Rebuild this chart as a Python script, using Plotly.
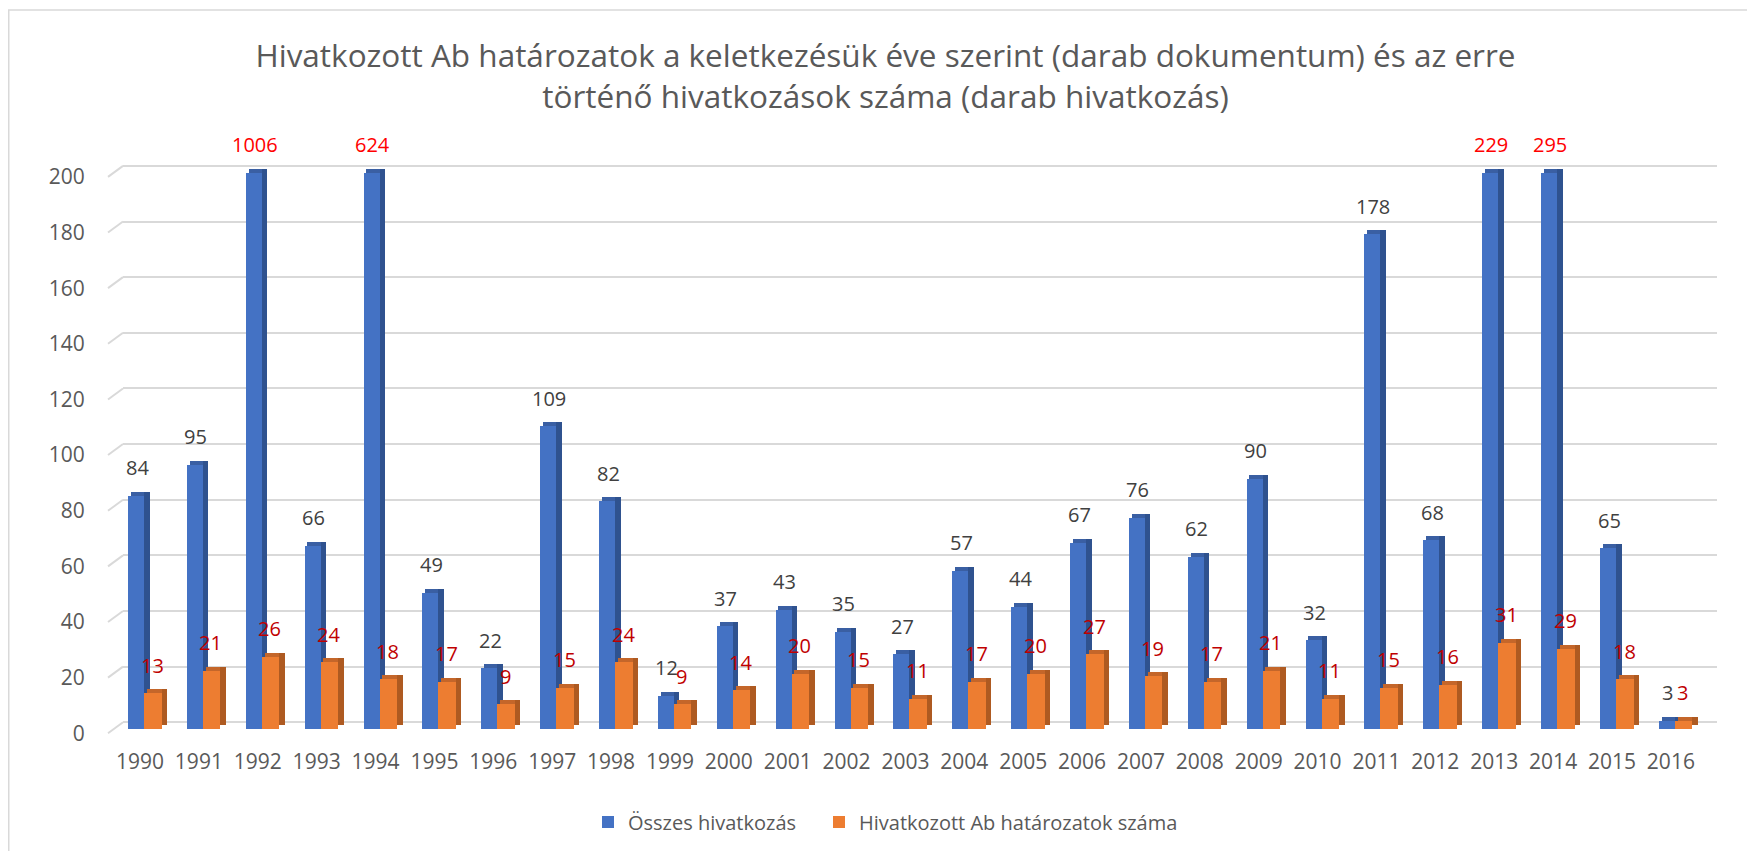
import plotly.graph_objects as go

# ---------------- data ----------------
years = ["1990", "1991", "1992", "1993", "1994", "1995", "1996", "1997", "1998", "1999",
         "2000", "2001", "2002", "2003", "2004", "2005", "2006", "2007", "2008", "2009",
         "2010", "2011", "2012", "2013", "2014", "2015", "2016"]
osszes = [84, 95, 1006, 66, 624, 49, 22, 109, 82, 12,
          37, 43, 35, 27, 57, 44, 67, 76, 62, 90,
          32, 178, 68, 229, 295, 65, 3]
hivatkozott = [13, 21, 26, 24, 18, 17, 9, 15, 24, 9,
               14, 20, 15, 11, 17, 20, 27, 19, 17, 21,
               11, 15, 16, 31, 29, 18, 3]
y_ticks = [0, 20, 40, 60, 80, 100, 120, 140, 160, 180, 200]
axis_cap = 200

title_text = ("Hivatkozott Ab határozatok a keletkezésük éve szerint (darab dokumentum) és az erre"
              "<br>történő hivatkozások száma (darab hivatkozás)")
name_blue = "Összes hivatkozás"
name_orange = "Hivatkozott Ab határozatok száma"

# ---------------- styling / geometry ----------------
FONT = "Open Sans"
W, H = 1755, 851
OFF = 8                       # page body margin
# target plot area in page pixels
P_LEFT, P_RIGHT, P_TOP, P_BOTTOM = 123, 1717, 159, 732
ML, MR = P_LEFT - OFF, W - (P_RIGHT - OFF)
MT, MB = P_TOP - OFF, H - (P_BOTTOM - OFF)
PW, PH = W - ML - MR, H - MT - MB
CAT_PX = 58.88
XR = [-17 / CAT_PX, -17 / CAT_PX + PW / CAT_PX]
YR = [-1, 205]
px_x = PW / (XR[1] - XR[0])
px_y = PH / (YR[1] - YR[0])
grid_shift = 7 / px_y          # back-wall gridlines sit 7px higher than front
depth = 4 / px_y               # 3D depth (vertical)

BLUE, BLUE_SIDE, BLUE_TOP = "#4472c4", "#2f528f", "#3a5fa3"
ORANGE, ORANGE_SIDE, ORANGE_TOP = "#ed7d31", "#ae5a21", "#c4662a"

x = list(range(len(years)))
blue_plot = [min(v, axis_cap) for v in osszes]

blue_w = 16 / px_x
orange_w = 17.5 / px_x
side_w = 5.5 / px_x
blue_off = -12 / px_x
blue_side_off = blue_off + blue_w
orange_off = blue_side_off
orange_side_off = orange_off + orange_w
cap_shift = 2.75 / px_x

fig = go.Figure()

def bars(yv, off, wid, color, name=None, base=None, legend=None):
    fig.add_trace(go.Bar(
        x=x, y=yv, base=base, offset=off, width=wid,
        marker=dict(color=color, line=dict(width=0)),
        name=name, showlegend=legend is not None, legend=legend or "legend",
        hoverinfo="skip"))

# blue series
bars(blue_plot, blue_off, blue_w, BLUE, name_blue, legend="legend")
bars([depth] * len(x), blue_off + cap_shift, blue_w, BLUE_TOP, base=blue_plot)
bars(blue_plot, blue_side_off, side_w, BLUE_SIDE, base=depth)
# orange series
bars(hivatkozott, orange_off, orange_w, ORANGE, name_orange, legend="legend2")
bars([depth] * len(x), orange_off + cap_shift, orange_w, ORANGE_TOP, base=hivatkozott)
bars(hivatkozott, orange_side_off, side_w, ORANGE_SIDE, base=depth)

# invisible trace to carry the back-wall gridline axis
fig.add_trace(go.Scatter(x=[None], y=[None], yaxis="y2", showlegend=False, hoverinfo="skip"))

# data labels
ann = []
for i, v in enumerate(osszes):
    col = "#ff0000" if v > axis_cap else "#404040"
    ann.append(dict(x=i - 3 / px_x, y=min(v, axis_cap), xref="x", yref="y",
                    text=str(v), showarrow=False, yanchor="middle", yshift=28,
                    font=dict(family=FONT, size=20, color=col)))
for i, v in enumerate(hivatkozott):
    ann.append(dict(x=i + 12 / px_x, y=v, xref="x", yref="y",
                    text=str(v), showarrow=False, yanchor="middle", yshift=28,
                    font=dict(family=FONT, size=20, color="#c00000")))

# shapes: chart border + 3D floor gridline stubs on the left
shapes = [dict(type="rect", xref="paper", yref="paper",
               x0=(0.75 - ML) / PW, x1=1.2, y0=-0.5, y1=(PH + MT - 2) / PH,
               line=dict(color="#d9d9d9", width=1.5), fillcolor="rgba(0,0,0,0)", layer="below")]
for v in y_ticks:
    y_back = (v + grid_shift - YR[0]) / (YR[1] - YR[0])
    y_front = y_back - (11 / PH)
    shapes.append(dict(type="line", xref="paper", yref="paper",
                       x0=-15 / PW, y0=y_front, x1=0, y1=y_back,
                       line=dict(color="#d9d9d9", width=2), layer="below"))

leg_y = (P_BOTTOM - 822) / PH
leg_common = dict(orientation="h", xanchor="left", yanchor="middle", y=leg_y,
                  font=dict(family=FONT, size=20, color="#595959"),
                  bgcolor="rgba(0,0,0,0)", borderwidth=0)

fig.update_layout(
    width=W, height=H,
    margin=dict(l=ML, r=MR, t=MT, b=MB, pad=0, autoexpand=False),
    paper_bgcolor="white", plot_bgcolor="white",
    barmode="overlay", bargap=0,
    font=dict(family=FONT, color="#595959"),
    title=dict(text=title_text, x=0.5, xanchor="center", xref="container",
               y=1 - 59 / H, yanchor="top",
               font=dict(family=FONT, size=31.5, color="#595959")),
    xaxis=dict(range=XR, tickmode="array", tickvals=x, ticktext=years,
               showgrid=False, zeroline=False, showline=False, ticks="",
               automargin=False, ticklabelstandoff=15,
               tickfont=dict(family=FONT, size=21, color="#595959")),
    yaxis=dict(range=YR, tickmode="array", tickvals=y_ticks,
               showgrid=False, zeroline=False, showline=False,
               ticks="outside", ticklen=33, tickcolor="rgba(0,0,0,0)",
               automargin=False, ticklabelshift=4,
               tickfont=dict(family=FONT, size=21, color="#595959")),
    yaxis2=dict(range=[YR[0] - grid_shift, YR[1] - grid_shift], overlaying="y",
                tickmode="array", tickvals=y_ticks, showticklabels=False,
                showgrid=True, gridcolor="#d9d9d9", gridwidth=2,
                zeroline=True, zerolinecolor="#d9d9d9", zerolinewidth=2,
                showline=False, ticks="", automargin=False),
    legend=dict(x=(601 - 21 - ML) / PW, **leg_common),
    legend2=dict(x=(838 - 27 - ML) / PW, **leg_common),
    annotations=ann,
    shapes=shapes,
)

fig.write_html("out.html")
